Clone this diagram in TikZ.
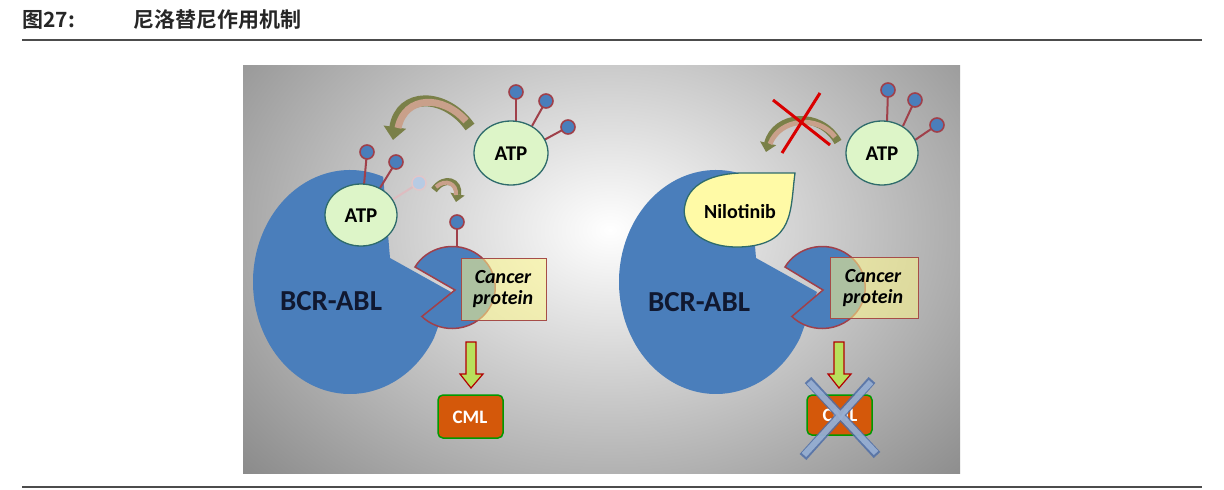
\documentclass[tikz,border=0pt]{standalone}
\usepackage{fontspec}
\setmainfont{Carlito}
\newfontfamily\cjk{Noto Sans CJK SC}[BoldFont={Noto Sans CJK SC Bold}]
\usetikzlibrary{arrows.meta}
\definecolor{pblue}{HTML}{4A7EBB}
\definecolor{pred}{HTML}{A0404A}
\definecolor{atpfill}{HTML}{DDF5C8}
\definecolor{atpdraw}{HTML}{2E6B6B}
\definecolor{ballfill}{HTML}{4A7EBB}
\definecolor{navy}{HTML}{101830}
\definecolor{olivec}{HTML}{7A8048}
\definecolor{pinkc}{HTML}{C9A08A}
\definecolor{xin}{HTML}{A8BEDD}
\definecolor{xout}{HTML}{4F6FA8}
\definecolor{cmlc}{HTML}{D4580A}
\tikzset{
  big/.style={fill=pblue},
  atp/.style={fill=atpfill,draw=atpdraw,line width=1.3pt},
  stalk/.style={draw=pred,line width=2pt},
  ball/.style={fill=ballfill,draw=pred,line width=1.6pt},
  prot/.style={fill=pblue,draw=pred,line width=1.5pt},
  cbox/.style={fill=yellow!45,fill opacity=0.55,draw=pred!80!brown,line width=1pt},
  lbl/.style={font=\bfseries\fontsize{21}{24}\selectfont,text=black},
  bcr/.style={font=\bfseries\fontsize{29}{32}\selectfont,text=navy},
  cp/.style={font=\bfseries\itshape\fontsize{20}{24}\selectfont,align=center,text=black},
  down/.style={fill=yellow!60!green!70,draw=red!70!black,line width=1.2pt},
  cml/.style={fill=cmlc,draw=green!60!black,line width=1.5pt,rounded corners=5pt},
}
\begin{document}
\begin{tikzpicture}[x=1pt,y=-1pt]
\useasboundingbox (0,0) rectangle (1224,490);
\fill[white] (0,0) rectangle (1224,490);
% header
\node[anchor=west,font=\cjk\bfseries\fontsize{21}{24}\selectfont,text=black!85] (title) at (19,20) {图27:\hspace{58pt}尼洛替尼作用机制};
\draw[black!70,line width=2.5pt] (22,40) -- (1202,40);
\draw[black!70,line width=2pt] (22,487) -- (1202,487);
% background panel
\begin{scope}
\clip (243,65) rectangle (960,473);
\shade[inner color=white,outer color=black!50] (610,230) ellipse [x radius=540,y radius=400];
\end{scope}

% ========== LEFT PANEL ==========
\path[big] (451,292) -- (434,338) arc[start angle=30,end angle=290,x radius=97,y radius=112] -- (390,258) -- cycle;
\node[bcr] (bcrL) at (331,301) {BCR-ABL};
\draw[stalk] (364,185) -- (367,152); \draw[ball] (367,152) circle (7);
\draw[stalk] (380,188) -- (396,162); \draw[ball] (396,162) circle (7);
\draw[draw=pred!35,line width=2pt] (392,200) -- (419,183); \draw[fill=pblue!40,draw=pred!30,line width=1.5pt] (419,183) circle (7);
\path[atp] (361,215) ellipse [x radius=36,y radius=31];
\node[lbl] (atpL1) at (361,216) {ATP};
\draw[stalk] (516,122) -- (516,92); \draw[ball] (516,92) circle (7);
\draw[stalk] (532,126) -- (546,101); \draw[ball] (546,101) circle (7);
\draw[stalk] (544,140) -- (568,127); \draw[ball] (568,127) circle (7);
\path[atp] (511,153) ellipse [x radius=37,y radius=32];
\node[lbl] (atpL2) at (511,154) {ATP};
\draw[olivec,line width=11pt,-{Triangle[length=13pt,width=22pt]}] (470,127) .. controls (445,92) and (400,92) .. (393,140);
\draw[pinkc,line width=7pt] (466,121) .. controls (443,95) and (405,95) .. (398,128);
\draw[olivec,line width=7pt,-{Triangle[length=8pt,width=14pt]}] (434,190) .. controls (445,175) and (460,182) .. (456,202);
\draw[pinkc,line width=4pt] (436,187) .. controls (446,178) and (457,184) .. (456,195);
\draw[stalk] (457,248) -- (457,222); \draw[ball] (457,222) circle (7);
\path[prot] (455,290) -- (415,267) arc[start angle=210,end angle=495,x radius=43,y radius=41] -- cycle;
\path[cbox] (461,258) rectangle (546,320);
\node[cp] (cpL) at (503,289) {Cancer\\[-3pt]protein};
\path[down] (466,342) -- (476,342) -- (476,374) -- (483,374) -- (471,388) -- (460,374) -- (466,374) -- cycle;
\path[cml] (438,395) rectangle (503,438);
\node[lbl,font=\bfseries\fontsize{19}{22}\selectfont,text=white] (cmlL) at (470,417) {CML};

% ========== RIGHT PANEL ==========
\path[big] (817,292) -- (800,338) arc[start angle=30,end angle=290,x radius=97,y radius=112] -- (756,258) -- cycle;
\node[bcr] (bcrR) at (699,302) {BCR-ABL};
\path[fill=yellow!35,draw=atpdraw,line width=1.3pt] (795,173) .. controls (790,210) and (795,245) .. (740,247)
  .. controls (700,248) and (680,225) .. (685,205) .. controls (690,180) and (720,172) .. (750,173) -- cycle;
\node[lbl,font=\bfseries\fontsize{20}{23}\selectfont] (nilo) at (740,212) {Nilotinib};
\draw[stalk] (887,122) -- (888,90); \draw[ball] (888,90) circle (7);
\draw[stalk] (903,126) -- (915,100); \draw[ball] (915,100) circle (7);
\draw[stalk] (915,140) -- (937,125); \draw[ball] (937,125) circle (7);
\path[atp] (882,153) ellipse [x radius=36,y radius=32];
\node[lbl] (atpR) at (882,154) {ATP};
\draw[olivec,line width=8pt,-{Triangle[length=9pt,width=16pt]}] (838,142) .. controls (820,110) and (775,115) .. (766,152);
\draw[pinkc,line width=5pt] (835,137) .. controls (818,115) and (780,118) .. (770,144);
\draw[red!85!black,line width=3pt] (773,100) -- (830,145);
\draw[red!85!black,line width=3pt] (820,93) -- (782,153);
\path[prot] (823,290) -- (785,267) arc[start angle=210,end angle=495,x radius=43,y radius=41] -- cycle;
\path[cbox] (830,257) rectangle (918,318);
\node[cp] (cpR) at (873,288) {Cancer\\[-3pt]protein};
\path[down] (834,342) -- (844,342) -- (844,374) -- (851,374) -- (839,388) -- (828,374) -- (834,374) -- cycle;
\path[cml] (807,395) rectangle (872,435);
\node[lbl,font=\bfseries\fontsize{19}{22}\selectfont,text=white] (cmlR) at (840,415) {CML};
\draw[xout,line width=9pt,opacity=0.85] (803,457) -- (872,380) (808,380) -- (877,455);
\draw[xin,line width=6pt,opacity=0.75] (804,455) -- (871,382) (809,382) -- (876,453);
\end{tikzpicture}
\end{document}
